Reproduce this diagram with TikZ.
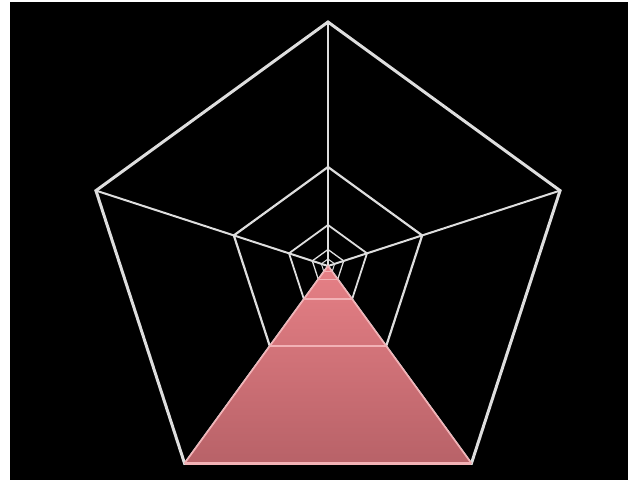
\documentclass[tikz,border=0pt]{standalone}
\begin{document}
\begin{tikzpicture}[x=1pt,y=-1pt,
  gridline/.style={draw=gridc, line join=miter},
  bandline/.style={draw=bandc, line join=miter},
  pinkfill/.style={top color=pinktop, bottom color=pinkbot}]
\definecolor{gridc}{RGB}{222,222,222}
\definecolor{bandc}{RGB}{242,178,182}
\definecolor{pinktop}{RGB}{230,128,134}
\definecolor{pinkbot}{RGB}{184,98,104}
\useasboundingbox (0,0) rectangle (634,480);
\fill[white] (0,0) rectangle (634,480);
\fill[black] (10,2) rectangle (628,480);
\coordinate (c) at (328,266);
\foreach \k/\R in {1/244,2/99,3/41,4/16.5,5/7} {
  \foreach \i/\a in {1/90,2/162,3/234,4/306,5/18} {
    \coordinate (p\k-\i) at ({328+\R*cos(\a)},{266-\R*sin(\a)});
  }
}
\foreach \i in {1,...,5} \draw[gridline, line width=2] (c) -- (p1-\i);
\foreach \k/\w in {1/3,2/2.2,3/1.8,4/1.3,5/1} {
  \draw[gridline, line width=\w] (p\k-1) -- (p\k-2) -- (p\k-3) -- (p\k-4) -- (p\k-5) -- cycle;
}
\fill[pinkfill] (c) -- (p1-3) -- (p1-4) -- cycle;
\begin{scope}
  \clip (c) -- (p1-3) -- (p1-4) -- cycle;
  \foreach \k/\w in {2/2.2,3/1.8,4/1.3,5/1} {
    \draw[bandline, line width=\w] (p\k-3) -- (p\k-4);
  }
\end{scope}
\draw[bandline, line width=1.5] (p1-4) -- (c) -- (p1-3);
\draw[bandline, line width=3] (p1-3) -- (p1-4);
\end{tikzpicture}
\end{document}
